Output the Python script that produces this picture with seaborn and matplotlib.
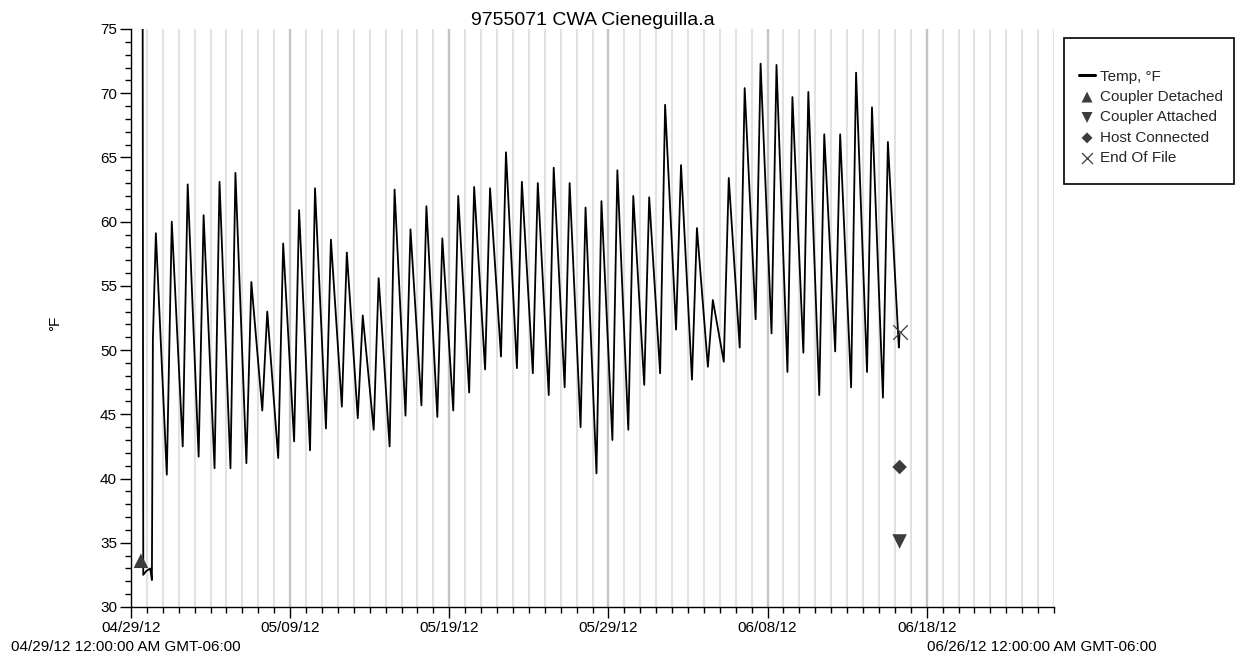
import matplotlib
matplotlib.use("Agg")
import matplotlib.pyplot as plt
import matplotlib.dates as mdates
from matplotlib.patches import Rectangle
from matplotlib.lines import Line2D
from matplotlib.ticker import MultipleLocator, FixedLocator
import numpy as np
import pandas as pd
import seaborn as sns

# ---------------- data ----------------
title = "9755071 CWA Cieneguilla.a"
y_label = "°F"

# start-up segment (logger launched, then placed in cold water)
start_times = ["2012-04-29 17:30", "2012-04-29 18:30", "2012-04-29 23:00",
               "2012-04-30 05:00", "2012-04-30 07:30", "2012-04-30 09:00"]
start_temps = [80.0, 32.5, 32.8, 33.0, 32.1, 50.8]

# daily afternoon maxima 04/30 .. 06/15
peak_first = "2012-04-30 13:30"
peak_temps = [59.1, 60.0, 62.9, 60.5, 63.1, 63.8, 55.3, 53.0, 58.3, 60.9,
              62.6, 58.6, 57.6, 52.7, 55.6, 62.5, 59.4, 61.2, 58.7, 62.0,
              62.7, 62.6, 65.4, 63.1, 63.0, 64.2, 63.0, 61.1, 61.6, 64.0,
              62.0, 61.9, 69.1, 64.4, 59.5, 53.9, 63.4, 70.4, 72.3, 72.2,
              69.7, 70.1, 66.8, 66.8, 71.6, 68.9, 66.2]

# daily morning minima 05/01 .. 06/15
trough_first = "2012-05-01 06:00"
trough_temps = [40.3, 42.5, 41.7, 40.8, 40.8, 41.2, 45.3, 41.6, 42.9, 42.2,
                43.9, 45.6, 44.7, 43.8, 42.5, 44.9, 45.7, 44.8, 45.3, 46.7,
                48.5, 49.5, 48.6, 48.2, 46.5, 47.1, 44.0, 40.4, 43.0, 43.8,
                47.3, 48.2, 51.6, 47.7, 48.7, 49.1, 50.2, 52.4, 51.3, 48.3,
                49.8, 46.5, 49.9, 47.1, 48.3, 46.3]

end_times = ["2012-06-16 06:00", "2012-06-16 07:00"]
end_temps = [50.2, 51.2]

# event markers
event_names = ["Coupler Detached", "Coupler Attached", "Host Connected", "End Of File"]
event_times = ["2012-04-29 15:00", "2012-06-16 07:10", "2012-06-16 07:10", "2012-06-16 07:10"]
event_values = [33.6, 35.1, 40.9, 51.4]

x_start = "2012-04-29"
x_end = "2012-06-26"
major_tick_dates = ["2012-04-29", "2012-05-09", "2012-05-19", "2012-05-29",
                    "2012-06-08", "2012-06-18"]
left_corner_label = "04/29/12 12:00:00 AM GMT-06:00"
right_corner_label = "06/26/12 12:00:00 AM GMT-06:00"

# ---------------- assemble series ----------------
peak_dt = pd.date_range(peak_first, periods=len(peak_temps), freq="D")
trough_dt = pd.date_range(trough_first, periods=len(trough_temps), freq="D")
times = list(pd.to_datetime(start_times))
temps = list(start_temps)
for i in range(len(peak_temps)):
    times.append(peak_dt[i]); temps.append(peak_temps[i])
    if i < len(trough_temps):
        times.append(trough_dt[i]); temps.append(trough_temps[i])
times += list(pd.to_datetime(end_times))
temps += end_temps
df = pd.DataFrame({"time": times, "temp": temps}).sort_values("time")

ev = pd.DataFrame({"event": event_names, "time": pd.to_datetime(event_times),
                   "value": event_values})

# ---------------- styling ----------------
sns.set_theme(style="white")
plt.rcParams["font.family"] = ["Liberation Sans", "DejaVu Sans"]

W, H = 1241, 660
fig = plt.figure(figsize=(W / 100, H / 100), dpi=100)
L, R, T, B = 131, 1054, 29, 607
ax = fig.add_axes([L / W, 1 - B / H, (R - L) / W, (B - T) / H])

mark_col = "#3c3c3c"
sns.lineplot(data=df, x="time", y="temp", ax=ax, color="black", lw=1.3,
             label="Temp, °F", sort=False, estimator=None, zorder=3)
styles = {"Coupler Detached": ("^", 110),
          "Coupler Attached": ("v", 110),
          "Host Connected": ("D", 55),
          "End Of File": ("x", 110)}
for name in ["Coupler Detached", "Coupler Attached", "Host Connected", "End Of File"]:
    m, s = styles[name]
    sub = ev[ev["event"] == name]
    kw = dict(marker=m, s=s, color=mark_col, label=name, ax=ax, zorder=4)
    if m == "x":
        kw["linewidth"] = 0.9
    else:
        kw["edgecolor"] = "none"
    sns.scatterplot(data=sub, x="time", y="value", **kw)

ax.set_xlim(pd.Timestamp(x_start), pd.Timestamp(x_end))
ax.set_ylim(30, 75)

ax.xaxis.set_major_locator(FixedLocator(mdates.date2num(pd.to_datetime(major_tick_dates))))
ax.xaxis.set_major_formatter(mdates.DateFormatter("%m/%d/%y"))
ax.xaxis.set_minor_locator(mdates.DayLocator())
ax.yaxis.set_major_locator(MultipleLocator(5))
ax.yaxis.set_minor_locator(MultipleLocator(1))

ax.grid(False)
ax.grid(True, which="minor", axis="x", color="#e2e2e2", lw=1.5, zorder=0)
ax.grid(True, which="major", axis="x", color="#c4c4c4", lw=1.7, zorder=0)
ax.set_axisbelow(True)

for side in ["top", "right"]:
    ax.spines[side].set_visible(False)
for side in ["left", "bottom"]:
    ax.spines[side].set_color("black")
    ax.spines[side].set_linewidth(1.0)

ax.tick_params(which="major", direction="out", length=8, width=1, color="black",
               labelsize=11, labelcolor="black", pad=2, left=True, bottom=True)
ax.tick_params(which="minor", direction="out", length=4, width=1, color="black",
               left=True, bottom=True)

ax.set_xlabel("")
ax.set_ylabel(y_label, fontsize=11, color="black")
ax.yaxis.set_label_coords(-0.075, 0.49)
ax.set_title(title, fontsize=14, color="black", pad=3)

# legend
leg = ax.legend(loc="upper left", bbox_to_anchor=(1071 / W, 1 - 62 / H),
                bbox_transform=fig.transFigure, frameon=False, fontsize=11,
                borderpad=0, labelspacing=0.42, handlelength=1.1,
                handletextpad=0.3, markerscale=0.75)
for h in leg.legend_handles:
    if isinstance(h, Line2D):
        h.set_linewidth(2.2)
fig.patches.append(Rectangle((1064 / W, 1 - 184 / H), 170 / W, 146 / H,
                             transform=fig.transFigure, fill=False,
                             edgecolor="black", lw=1.2))

fig.text(126 / W, 1 - 647 / H, left_corner_label, ha="center", va="center",
         fontsize=11, color="black")
fig.text(1042 / W, 1 - 647 / H, right_corner_label, ha="center", va="center",
         fontsize=11, color="black")

fig.savefig("out.png", dpi=100)
